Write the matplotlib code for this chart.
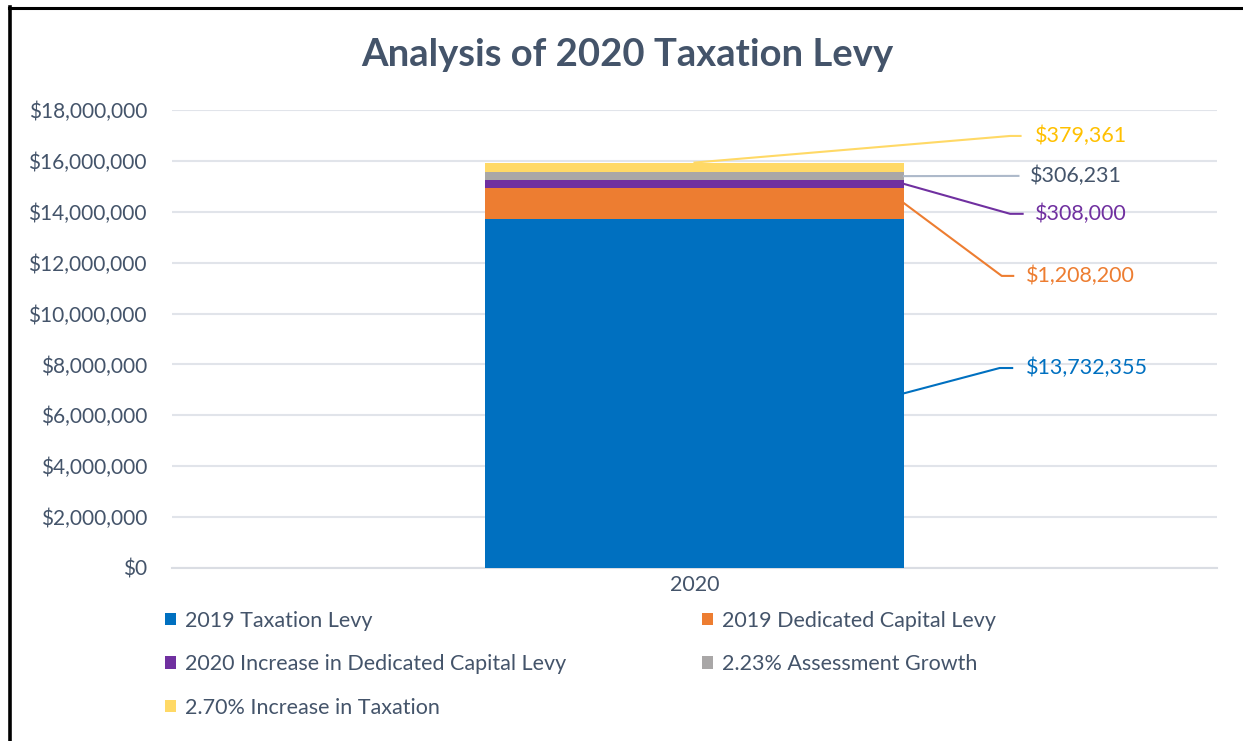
import matplotlib.pyplot as plt
import numpy as np
from matplotlib.lines import Line2D
from matplotlib.patches import Patch
from matplotlib.ticker import FuncFormatter

plt.rcParams['font.family'] = ['Lato', 'DejaVu Sans']

year = '2020'
series = [
    '2019 Taxation Levy',
    '2019 Dedicated Capital Levy',
    '2020 Increase in Dedicated Capital Levy',
    '2.23% Assessment Growth',
    '2.70% Increase in Taxation',
]
values = [13732355, 1208200, 308000, 306231, 379361]

bar_colors = ['#0070C0', '#ED7D31', '#7030A0', '#A9A7A7', '#FFD966']
label_colors = ['#0070C0', '#ED7D31', '#7030A0', '#44546A', '#FFC000']
leader_colors = ['#0070C0', '#ED7D31', '#7030A0', '#ADB9CA', '#FFD966']

# label placement (data coords)
label_y = [7.86e6, 11.48e6, 13.92e6, 15.41e6, 16.98e6]
elbow_x = [0.292, 0.294, 0.302, 0.310, 0.302]
end_x = [0.304, 0.305, 0.314, 0.310, 0.312]
text_x = [0.317, 0.317, 0.326, 0.321, 0.326]
anchor = ['edge', 'edge', 'edge', 'edge', 'top']

text_color = '#44546A'
bar_width = 0.401

fig = plt.figure(figsize=(12.43, 7.41), dpi=100)
ax = fig.add_axes([172 / 1243, 1 - 568 / 741, 1045 / 1243, 458 / 741])

bottoms = np.concatenate([[0], np.cumsum(values)[:-1]])
for val, bot, col in zip(values, bottoms, bar_colors):
    ax.bar(0, val, bottom=bot, width=bar_width, color=col, zorder=3)

ax.set_xlim(-0.5, 0.5)
ax.set_ylim(0, 18e6)
ax.set_yticks(np.arange(0, 18e6 + 1, 2e6))
ax.yaxis.set_major_formatter(FuncFormatter(lambda v, _: f'${v:,.0f}'))
ax.set_xticks([0])
ax.set_xticklabels([year])
ax.tick_params(axis='y', length=0, pad=18, labelsize=15, labelcolor=text_color)
ax.tick_params(axis='x', length=0, pad=5, labelsize=15.5, labelcolor=text_color)
ax.grid(axis='y', color='#E1E4EA', linewidth=1.5, zorder=0)
for side in ['left', 'right', 'top']:
    ax.spines[side].set_visible(False)
ax.spines['bottom'].set_color('#DADDE3')
ax.spines['bottom'].set_linewidth(1.5)

total = sum(values)
for i, val in enumerate(values):
    if anchor[i] == 'top':
        x0, y0 = 0, total
    else:
        x0, y0 = bar_width / 2, bottoms[i] + val / 2
    ax.plot([x0, elbow_x[i], end_x[i]], [y0, label_y[i], label_y[i]],
            color=leader_colors[i], linewidth=1.5, zorder=4, clip_on=False)
    ax.text(text_x[i], label_y[i], f'${val:,.0f}', color=label_colors[i],
            fontsize=15.5, va='center', ha='left')

fig.text(627 / 1243, 1 - 55 / 741, 'Analysis of 2020 Taxation Levy', ha='center',
         va='center', fontsize=27.5, fontweight='bold', color=text_color)

handles = [Patch(facecolor=c, edgecolor='none') for c in bar_colors]
leg_kw = dict(frameon=False, fontsize=15.5, labelcolor=text_color,
              handlelength=0.5, handleheight=0.5, handletextpad=0.42,
              labelspacing=1.08, borderpad=0, borderaxespad=0, loc='upper left')
fig.legend([handles[0], handles[2], handles[4]], [series[0], series[2], series[4]],
           bbox_to_anchor=(165 / 1243, 1 - 611 / 741), **leg_kw)
fig.legend([handles[1], handles[3]], [series[1], series[3]],
           bbox_to_anchor=(702 / 1243, 1 - 611 / 741), **leg_kw)

# outer frame (left and top edges only)
fig.add_artist(Line2D([10.5 / 1243, 10.5 / 1243], [0, 1 - 7 / 741], color='black',
                      linewidth=2.6, transform=fig.transFigure))
fig.add_artist(Line2D([9 / 1243, 1], [1 - 7.5 / 741, 1 - 7.5 / 741], color='black',
                      linewidth=2.2, transform=fig.transFigure))

fig.savefig('out.png', dpi=100)
